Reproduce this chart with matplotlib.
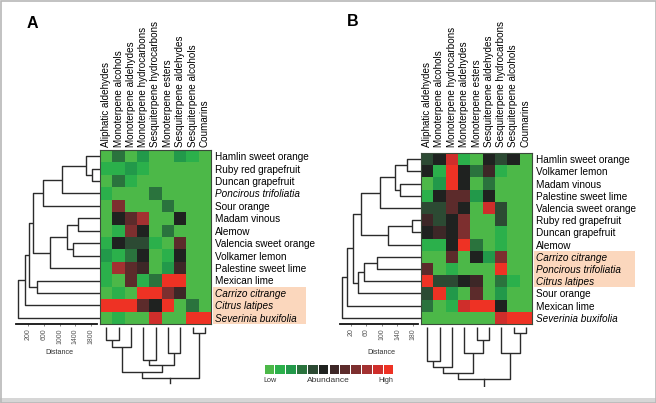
import matplotlib
matplotlib.use("Agg")
import matplotlib.pyplot as plt
from matplotlib.colors import ListedColormap
from matplotlib.patches import Rectangle
import numpy as np

plt.rcParams['font.family'] = ['Liberation Sans', 'DejaVu Sans']

# ---------------- data ----------------
cols_A = ["Aliphatic aldehydes", "Monoterpene alcohols", "Monoterpene aldehydes",
          "Monoterpene hydrocarbons", "Sesquiterpene hydrocarbons", "Monoterpene esters",
          "Sesquiterpene aldehydes", "Sesquiterpene alcohols", "Coumarins"]
rows_A = ["Hamlin sweet orange", "Ruby red grapefruit", "Duncan grapefruit",
          "Poncirous trifoliatia", "Sour orange", "Madam vinous", "Alemow",
          "Valencia sweet orange", "Volkamer lemon", "Palestine sweet lime",
          "Mexican lime", "Carrizo citrange", "Citrus latipes", "Severinia buxifolia"]
vals_A = [
    [0, 3, 0, 2, 0, 0, 2, 1, 0],
    [1, 1, 2, 1, 0, 0, 0, 0, 0],
    [0, 3, 1, 0, 0, 0, 0, 0, 0],
    [1, 0, 0, 0, 3, 0, 0, 0, 0],
    [0, 8, 0, 0, 0, 3, 0, 0, 0],
    [0, 5, 7, 9, 0, 0, 5, 0, 0],
    [0, 1, 8, 5, 0, 3, 0, 0, 0],
    [1, 5, 4, 4, 1, 0, 7, 0, 0],
    [2, 1, 3, 5, 0, 1, 5, 0, 0],
    [1, 9, 7, 6, 0, 2, 6, 0, 0],
    [1, 0, 7, 1, 3, 11, 11, 0, 0],
    [0, 1, 0, 11, 11, 8, 6, 0, 0],
    [11, 11, 11, 7, 5, 11, 0, 3, 0],
    [0, 1, 0, 0, 10, 0, 0, 11, 11],
]
cols_B = ["Aliphatic aldehydes", "Monoterpene alcohols", "Monoterpene hydrocarbons",
          "Monoterpene aldehydes", "Monoterpene esters", "Sesquiterpene aldehydes",
          "Sesquiterpene hydrocarbons", "Sesquiterpene alcohols", "Coumarins"]
rows_B = ["Hamlin sweet orange", "Volkamer lemon", "Madam vinous", "Palestine sweet lime",
          "Valencia sweet orange", "Ruby red grapefruit", "Duncan grapefruit", "Alemow",
          "Carrizo citrange", "Poncirous trifoliatia", "Citrus latipes", "Sour orange",
          "Mexican lime", "Severinia buxifolia"]
vals_B = [
    [4, 5, 10, 1, 0, 5, 4, 5, 0],
    [5, 1, 11, 5, 3, 6, 1, 0, 0],
    [0, 2, 11, 5, 0, 3, 0, 0, 0],
    [1, 5, 7, 7, 2, 5, 0, 0, 0],
    [4, 4, 7, 5, 0, 10, 4, 0, 0],
    [6, 4, 5, 8, 0, 0, 4, 0, 0],
    [5, 6, 5, 8, 0, 0, 1, 0, 0],
    [1, 1, 5, 11, 3, 0, 1, 0, 0],
    [0, 0, 7, 0, 5, 2, 8, 0, 0],
    [7, 0, 1, 0, 0, 0, 11, 0, 0],
    [11, 4, 4, 5, 6, 0, 3, 1, 0],
    [4, 11, 2, 0, 7, 0, 2, 0, 0],
    [3, 0, 1, 10, 11, 11, 5, 0, 0],
    [0, 0, 0, 0, 0, 0, 10, 11, 11],
]
italic_names = {"Poncirous trifoliatia", "Carrizo citrange", "Citrus latipes", "Severinia buxifolia"}
highlight_A = ["Carrizo citrange", "Citrus latipes", "Severinia buxifolia"]
highlight_B = ["Carrizo citrange", "Poncirous trifoliatia", "Citrus latipes"]

# dendrogram merges: (child_a, child_b, height); leaves are 0..n-1 in display order
row_merges_A = [(1, 2, 210), (0, 14, 350), (15, 3, 960), (16, 4, 1420), (5, 6, 540),
                (7, 8, 670), (18, 19, 830), (20, 9, 1250), (17, 21, 1670), (10, 11, 1580),
                (22, 23, 1770), (24, 12, 1880), (25, 13, 2040)]
row_merges_B = [(0, 1, 35), (2, 3, 54), (14, 15, 67), (16, 4, 106), (5, 6, 24),
                (18, 7, 84), (17, 19, 155), (8, 9, 114), (21, 10, 147), (22, 11, 163),
                (20, 23, 175), (24, 12, 191), (25, 13, 204)]
col_merges_A = [(0, 1, 13.3), (9, 2, 20), (3, 4, 33.3), (5, 6, 26), (11, 12, 38.3),
                (10, 13, 45), (7, 8, 6.7), (14, 15, 51.7)]
col_merges_B = [(0, 1, 34), (9, 2, 40), (4, 5, 13.3), (3, 11, 26.7), (10, 12, 46),
                (7, 8, 6.7), (6, 14, 26.7), (13, 15, 52.7)]

dist_ticks_A = [200, 600, 1000, 1400, 1800]
dist_ticks_B = [20, 60, 100, 140, 180]

level_colors = ['#4cb848', '#2bb04b', '#22994a', '#2a733d', '#2c4a33', '#1f2220',
                '#3d2727', '#5c2b2b', '#7d2f2f', '#a33131', '#cf2e2b', '#ee3224']
legend_levels = list(range(12))

# ---------------- figure ----------------
W, H = 656, 403
fig = plt.figure(figsize=(W / 100, H / 100), dpi=100)


def ax_px(x0, y0, x1, y1):
    return fig.add_axes([x0 / W, 1 - y1 / H, (x1 - x0) / W, (y1 - y0) / H])


cmap = ListedColormap(level_colors)
LC = '#2b2b2b'


def dendro_segments(merges, n):
    pos = {i: i + 0.5 for i in range(n)}
    hgt = {i: 0.0 for i in range(n)}
    segs = []
    node = n - 1
    for k, (a, b, h) in enumerate(merges):
        node = n + k
        segs.append(([pos[a], pos[a], pos[b], pos[b]], [hgt[a], h, h, hgt[b]]))
        pos[node] = (pos[a] + pos[b]) / 2
        hgt[node] = h
    return segs, pos[node], hgt[node]


def draw_heat(box, vals, cols, rows, hl, top_pad, hl_right):
    ax = ax_px(*box)
    data = np.array(vals)
    ax.pcolormesh(np.arange(data.shape[1] + 1), np.arange(data.shape[0] + 1), data,
                  cmap=cmap, vmin=-0.5, vmax=11.5)
    ax.set_xlim(0, data.shape[1])
    ax.set_ylim(data.shape[0], 0)
    ax.xaxis.tick_top()
    ax.set_xticks(np.arange(len(cols)) + 0.5)
    ax.set_xticklabels(cols, rotation=90, fontsize=7.1)
    ax.yaxis.tick_right()
    ax.set_yticks(np.arange(len(rows)) + 0.5)
    ax.set_yticklabels(rows, fontsize=7.2)
    for lab in ax.get_yticklabels():
        if lab.get_text() in italic_names:
            lab.set_fontstyle('italic')
    ax.tick_params(length=0, top=True, right=True, bottom=False, left=False)
    ax.tick_params(axis='x', pad=top_pad)
    ax.tick_params(axis='y', pad=3)
    for s in ax.spines.values():
        s.set_color('#3a4a3a')
        s.set_linewidth(0.8)
    idx = [rows.index(r) for r in hl]
    r0, r1 = min(idx), max(idx) + 1
    ax.add_patch(Rectangle((1.015, r0), hl_right - 1.015, r1 - r0,
                           transform=ax.get_yaxis_transform(), clip_on=False,
                           facecolor='#fbd7bd', edgecolor='none', zorder=0))
    return ax


def draw_row_dendro(box, merges, n, hmax):
    ax = ax_px(*box)
    segs, _, _ = dendro_segments(merges, n)
    for ys, xs in segs:
        ax.plot(xs, ys, color=LC, lw=1.0, solid_capstyle='butt')
    ax.set_xlim(hmax, 0)
    ax.set_ylim(n, 0)
    ax.axis('off')


def draw_col_dendro(box, merges, n, hmax, stem):
    ax = ax_px(*box)
    segs, rpos, rh = dendro_segments(merges, n)
    for xs, ys in segs:
        ax.plot(xs, ys, color=LC, lw=1.0, solid_capstyle='butt')
    ax.plot([rpos, rpos], [rh, rh + stem], color=LC, lw=1.0)
    ax.set_xlim(0, n)
    ax.set_ylim(hmax, 0)
    ax.axis('off')


def draw_scale(box, ticks, lim):
    ax = ax_px(*box)
    ax.set_xlim(*lim)
    ax.set_ylim(0, 1)
    for s in ['top', 'left', 'right']:
        ax.spines[s].set_visible(False)
    ax.spines['bottom'].set_linewidth(1.3)
    ax.spines['bottom'].set_color('#111111')
    ax.set_yticks([])
    ax.set_xticks(ticks)
    ax.set_xticklabels([str(t) for t in ticks], rotation=90, fontsize=5, color='#333333')
    ax.tick_params(axis='x', length=1.5, width=0.5, pad=1.5, colors='#555555')
    ax.patch.set_visible(False)


# Panel A
draw_heat((100, 150, 211, 324), vals_A, cols_A, rows_A, highlight_A, 2.2, (306 - 100) / 111)
draw_row_dendro((16, 150, 100, 324), row_merges_A, 14, 2100)
draw_col_dendro((100, 326.7, 211, 386.7), col_merges_A, 9, 60, 5)
draw_scale((16, 318, 97, 324), dist_ticks_A, (-105, 1952))
fig.text(59 / W, 1 - 353 / H, "Distance", fontsize=5.2, ha='center', va='center', color='#333333')

# Panel B
draw_heat((421, 153, 532, 324), vals_B, cols_B, rows_B, highlight_B, 4.5, (635 - 421) / 111)
draw_row_dendro((340, 153, 421, 324), row_merges_B, 14, 209)
draw_col_dendro((421, 326.7, 532, 386.7), col_merges_B, 9, 60, 6.6)
draw_scale((340, 318, 418, 324), dist_ticks_B, (-8.4, 193))
fig.text(381 / W, 1 - 352 / H, "Distance", fontsize=5.2, ha='center', va='center', color='#333333')

# panel letters
fig.text(27 / W, 1 - 23 / H, "A", fontsize=11.5, fontweight='bold', ha='left', va='center')
fig.text(347 / W, 1 - 21 / H, "B", fontsize=11.5, fontweight='bold', ha='left', va='center')

# legend
lax = ax_px(264, 365, 394, 374)
lax.bar(legend_levels, 1, width=0.9, color=[level_colors[i] for i in legend_levels])
lax.set_xlim(-0.5, len(legend_levels) - 0.5)
lax.set_ylim(0, 1)
lax.axis('off')
fig.text(270 / W, 1 - 381 / H, "Low", fontsize=5.2, ha='center', va='center', color='#333333')
fig.text(328 / W, 1 - 381 / H, "Abundance", fontsize=6, ha='center', va='center', color='#333333')
fig.text(386 / W, 1 - 381 / H, "High", fontsize=5.2, ha='center', va='center', color='#333333')

# figure border
fig.patches.append(Rectangle((0, 0), 1, 5 / H, transform=fig.transFigure,
                             facecolor='#d6d6d6', edgecolor='none'))
fig.patches.append(Rectangle((0.5 / W, 0.5 / H), 1 - 1 / W, 1 - 1 / H, transform=fig.transFigure,
                             fill=False, edgecolor='#b8b8b8', lw=1.2))

fig.savefig("out.png", dpi=100)
